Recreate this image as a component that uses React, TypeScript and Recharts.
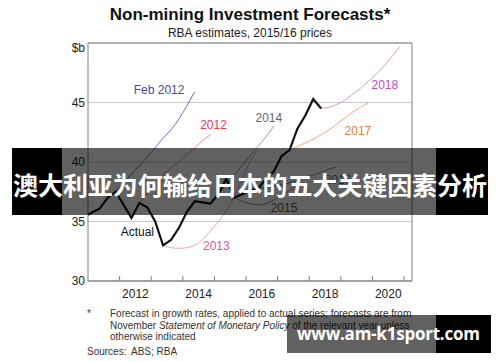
import {
  CartesianGrid,
  Line,
  LineChart,
  ReferenceDot,
  ReferenceLine,
  XAxis,
  YAxis,
} from "recharts";

const FONT = '"Liberation Sans", Arial, sans-serif';
const CJK = '"Noto Sans CJK SC", sans-serif';

// quarterly observations, placed mid-quarter (in years)
const FIRST_QUARTER = 2010.875;
const QUARTER_COUNT = 41;

const actual = [
  35.4, 35.75, 36.1, 37.0, 37.5, 36.4, 35.3, 36.55, 36.2, 35.0, 33.0, 33.45,
  34.45, 35.8, 36.7, 36.6, 36.5, 37.3, 38.6, 37.0, 37.3, 37.6, 37.8, 38.5,
  39.2, 40.5, 41.0, 42.8, 43.9, 45.3, 44.5,
];
const feb2012 = [37.5, 38.2, 39.0, 39.7, 40.4, 41.2, 42.0, 42.7, 43.6, 44.7, 45.9];
const nov2012 = [36.55, 37.4, 38.2, 38.9, 39.5, 40.0, 40.6, 41.2, 41.8, 42.3];
const nov2013 = [33.0, 32.8, 32.75, 32.8, 33.0, 33.5, 34.2, 35.0, 35.9, 37.1, 38.5, 40.0, 41.0];
const nov2014 = [36.5, 37.3, 38.1, 38.9, 39.7, 40.5, 41.3, 42.1, 43.0];
const nov2015 = [37.0, 36.7, 36.5, 36.4, 36.5, 36.8, 37.2, 37.6, 38.0];
const nov2016 = [37.8, 37.85, 37.95, 38.1, 38.25, 38.45, 38.7, 38.9, 39.15, 39.4, 39.6];
const nov2017 = [41.0, 41.3, 41.6, 41.9, 42.3, 42.7, 43.2, 43.7, 44.2, 44.6, 45.0];
const nov2018 = [44.5, 44.6, 44.85, 45.2, 45.7, 46.2, 46.8, 47.4, 48.1, 48.9, 49.7];

const SERIES = [
  { key: "actual", start: 2010.875, values: actual, color: "#111111", width: 2.2, type: "linear" },
  { key: "feb2012", start: 2011.875, values: feb2012, color: "#6a76c4", width: 1, type: "monotone" },
  { key: "nov2012", start: 2012.625, values: nov2012, color: "#ec8a8e", width: 1, type: "monotone" },
  { key: "nov2013", start: 2013.375, values: nov2013, color: "#e3a3c6", width: 1, type: "monotone" },
  { key: "nov2014", start: 2014.875, values: nov2014, color: "#9a9a9a", width: 1, type: "monotone" },
  { key: "nov2015", start: 2015.625, values: nov2015, color: "#a8946a", width: 1, type: "monotone" },
  { key: "nov2016", start: 2016.375, values: nov2016, color: "#5aa0c0", width: 1, type: "monotone" },
  { key: "nov2017", start: 2017.375, values: nov2017, color: "#f6a87a", width: 1, type: "monotone" },
  { key: "nov2018", start: 2018.375, values: nov2018, color: "#d69ad9", width: 1, type: "monotone" },
];

const seriesLabels = ["Actual", "Feb 2012", "2012", "2013", "2014", "2015", "2016", "2017", "2018"];
const labelX = [2012.56, 2013.25, 2014.97, 2015.06, 2016.72, 2017.2, 2018.91, 2019.54, 2020.39];
const labelY = [34.12, 46.05, 43.15, 32.97, 43.7, 36.16, 38.49, 42.6, 46.47];
const labelColors = ["#111111", "#3c4ca8", "#e63a4e", "#d4589a", "#666666", "#6f5a28", "#3a8ab0", "#f07a3a", "#c04cc4"];

const yearTicks = [2012, 2013, 2014, 2015, 2016, 2017, 2018, 2019, 2020, 2021];
const labelYears = [2012, 2014, 2016, 2018, 2020];
const yTicks = [30, 35, 40, 45, 50];

const data = Array.from({ length: QUARTER_COUNT }, (_, i) => {
  const t = FIRST_QUARTER + i * 0.25;
  const row: Record<string, number | null> = { t };
  for (const s of SERIES) {
    const idx = Math.round((t - s.start) / 0.25);
    row[s.key] = idx >= 0 && idx < s.values.length ? s.values[idx] : null;
  }
  return row;
});

const xTicks = [...yearTicks, ...labelYears.map((y) => y + 0.5)];

function XTick({ x, y, payload }: any) {
  const v = payload.value as number;
  if (Number.isInteger(v)) {
    return <line x1={x} x2={x} y1={y} y2={y - 5} stroke="#808080" />;
  }
  return (
    <text x={x} y={y + 17} textAnchor="middle" fontSize={12} fill="#222" fontFamily={FONT}>
      {Math.floor(v)}
    </text>
  );
}

function YTick({ x, y, payload, textAnchor }: any) {
  const v = payload.value as number;
  return (
    <text
      x={x}
      y={v === 50 ? y + 4.5 : y}
      dy="0.355em"
      textAnchor={textAnchor}
      fontSize={12}
      fill="#222"
      fontFamily={FONT}
    >
      {v === 50 ? "$b" : v}
    </text>
  );
}

export default function App() {
  return (
    <div style={{ position: "absolute", left: 0, top: 0, width: 500, height: 362, background: "#fff" }}>
      <LineChart width={500} height={362} data={data} margin={{ top: 43, right: 0, bottom: 51, left: 0 }}>
        <CartesianGrid vertical={false} yAxisId="l" stroke="#c8c8c8" />
        <XAxis
          dataKey="t"
          type="number"
          domain={[2011, 2021.25]}
          allowDataOverflow
          ticks={xTicks}
          interval={0}
          tick={<XTick />}
          tickLine={false}
          tickSize={0}
          tickMargin={0}
          height={30}
          stroke="#666"
        />
        <YAxis
          yAxisId="l"
          orientation="left"
          width={88}
          domain={[30, 50]}
          ticks={yTicks}
          interval={0}
          tick={<YTick />}
          tickLine={false}
          tickSize={0}
          tickMargin={3}
          stroke="#808080"
        />
        <YAxis
          yAxisId="r"
          orientation="right"
          width={88}
          domain={[30, 50]}
          ticks={yTicks}
          interval={0}
          tick={<YTick />}
          tickLine={false}
          tickSize={0}
          tickMargin={2}
          stroke="#808080"
        />
        <ReferenceLine y={50} yAxisId="l" stroke="#808080" />
        {SERIES.slice(1).map((s) => (
          <Line
            key={s.key}
            yAxisId="l"
            dataKey={s.key}
            type={s.type as any}
            stroke={s.color}
            strokeWidth={s.width}
            dot={false}
            activeDot={false}
            isAnimationActive={false}
          />
        ))}
        <Line
          yAxisId="l"
          dataKey="actual"
          type="linear"
          stroke={SERIES[0].color}
          strokeWidth={SERIES[0].width}
          dot={false}
          activeDot={false}
          isAnimationActive={false}
        />
        {seriesLabels.map((name, i) => (
          <ReferenceDot
            key={name}
            yAxisId="l"
            x={labelX[i]}
            y={labelY[i]}
            r={0}
            stroke="none"
            label={{ value: name, position: "center", fill: labelColors[i], fontSize: 12, fontFamily: FONT }}
          />
        ))}
      </LineChart>
      <svg width={500} height={362} style={{ position: "absolute", left: 0, top: 0 }}>
        <text x={250} y={19.5} textAnchor="middle" fontSize={17} fontWeight="bold" fill="#111" fontFamily={FONT}>
          Non-mining Investment Forecasts*
        </text>
        <text x={250} y={36.5} textAnchor="middle" fontSize={12} fill="#222" fontFamily={FONT}>
          RBA estimates, 2015/16 prices
        </text>
        <g fontSize={10} fill="#333" fontFamily={FONT}>
          <text x={87} y={317}>*</text>
          <text x={110} y={317}>Forecast in growth rates, applied to actual series; forecasts are from</text>
          <text x={110} y={328.5}>
            November <tspan fontStyle="italic">Statement of Monetary Policy</tspan> of the relevant year unless
          </text>
          <text x={110} y={340}>otherwise indicated</text>
          <text x={87} y={354.5}>Sources:</text>
          <text x={131} y={354.5}>ABS; RBA</text>
        </g>
        <rect x={12} y={148} width={50} height={67} fill="#000" />
        <rect x={62} y={148} width={374} height={67} fill="#000" opacity={0.62} />
        <rect x={436} y={148} width={52} height={67} fill="#000" />
        <text x={13} y={194.5} textLength={474} fontSize={25} fontWeight="bold" fill="#fff" fontFamily={CJK}>
          澳大利亚为何输给日本的五大关键因素分析
        </text>
        <rect x={287} y={315} width={149} height={38} fill="#000" opacity={0.62} />
        <rect x={436} y={315} width={55} height={38} fill="#000" />
        <text x={297} y={339.5} textLength={183} fontSize={17} fontWeight="bold" fill="#fff" fontFamily='"Open Sans", sans-serif'>
          www.am-k1sport.com
        </text>
      </svg>
    </div>
  );
}
